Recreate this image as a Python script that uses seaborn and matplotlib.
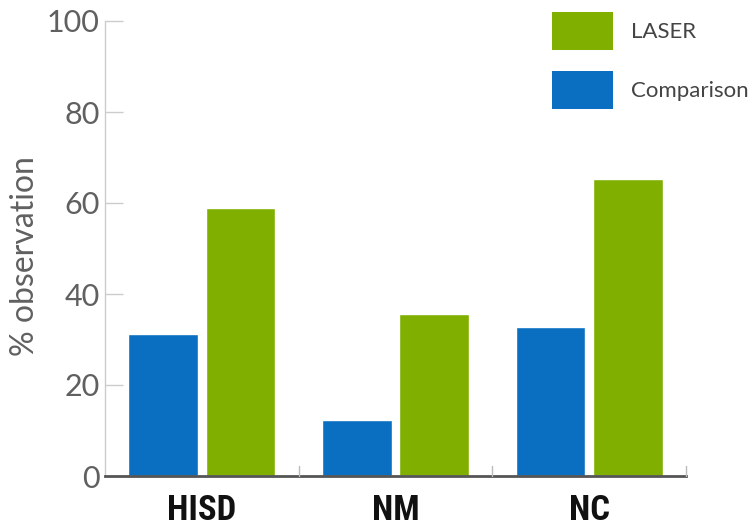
import matplotlib
matplotlib.use("Agg")
import matplotlib.pyplot as plt
from matplotlib import font_manager
from matplotlib.patches import Patch
import pandas as pd
import seaborn as sns

# Observation rates (%) per domain
categories = ["HISD", "NM", "NC"]
laser = [58.8, 35.6, 65.3]
comparison = [31.1, 12.3, 32.8]
series_names = ["Comparison", "LASER"]
y_ticks = [0, 20, 40, 60, 80, 100]

colors = {"Comparison": "#0A6FC1", "LASER": "#80AF00"}

installed = {f.name for f in font_manager.fontManager.ttflist}


def first_font(*names):
    for n in names:
        if n in installed:
            return n
    return "DejaVu Sans"


light_font = first_font("Lato", "Open Sans", "Roboto", "DejaVu Sans")
bold_font = first_font("Liberation Sans Narrow", "Roboto Condensed", "Open Sans", "DejaVu Sans")

df = pd.DataFrame({
    "category": categories * 2,
    "group": ["Comparison"] * len(categories) + ["LASER"] * len(categories),
    "value": comparison + laser,
})

sns.set_style("white")
plt.rcParams["font.family"] = [light_font, "DejaVu Sans"]

fig = plt.figure(figsize=(7.52, 5.32), dpi=100)
ax = fig.add_axes([105 / 752, 56 / 532, (686 - 105) / 752, (476 - 21) / 532])

sns.barplot(data=df, x="category", y="value", hue="group",
            hue_order=series_names, order=categories,
            palette=colors, width=0.8, gap=0.1, legend=False,
            saturation=1, ax=ax)

ax.set_xlim(-0.5, len(categories) - 0.5)
ax.set_ylim(0, 100)
ax.set_yticks(y_ticks)
ax.set_yticklabels([str(t) for t in y_ticks], fontsize=22, color="#606060")
ax.tick_params(axis="y", direction="in", length=13, width=1, color="#cccccc",
               pad=4, left=True)

# Category labels sit under each group; ticks mark the group boundaries
ax.set_xticks(range(len(categories)))
ax.set_xticklabels(categories, fontsize=25, fontweight="bold",
                   family=[bold_font, "DejaVu Sans"], color="#111111")
ax.tick_params(axis="x", length=0, pad=13)
for b in [i + 0.5 for i in range(len(categories))]:
    ax.plot([b, b], [0, 2.3], color="#bbbbbb", lw=1, clip_on=False, zorder=3)

ax.set_xlabel("")
ax.set_ylabel("% observation", fontsize=23, color="#606060")
ax.yaxis.set_label_coords(-0.112, 0.484)

for side in ["top", "right"]:
    ax.spines[side].set_visible(False)
ax.spines["left"].set_color("#cccccc")
ax.spines["left"].set_linewidth(1)
ax.spines["bottom"].set_color("#555555")
ax.spines["bottom"].set_linewidth(2)

handles = [Patch(facecolor=colors["LASER"], edgecolor="none", label="LASER"),
           Patch(facecolor=colors["Comparison"], edgecolor="none", label="Comparison")]
fs = 16
px = fs * 100 / 72
fig.legend(handles=handles, loc="upper left",
           bbox_to_anchor=(552 / 752, 1 - 12 / 532),
           frameon=False, fontsize=fs, borderpad=0, borderaxespad=0,
           handlelength=61 / px, handleheight=38 / px / 0.76,
           handletextpad=0.8, labelspacing=0.95,
           labelcolor="#444444")

fig.savefig("out.png", dpi=100, facecolor="white")
